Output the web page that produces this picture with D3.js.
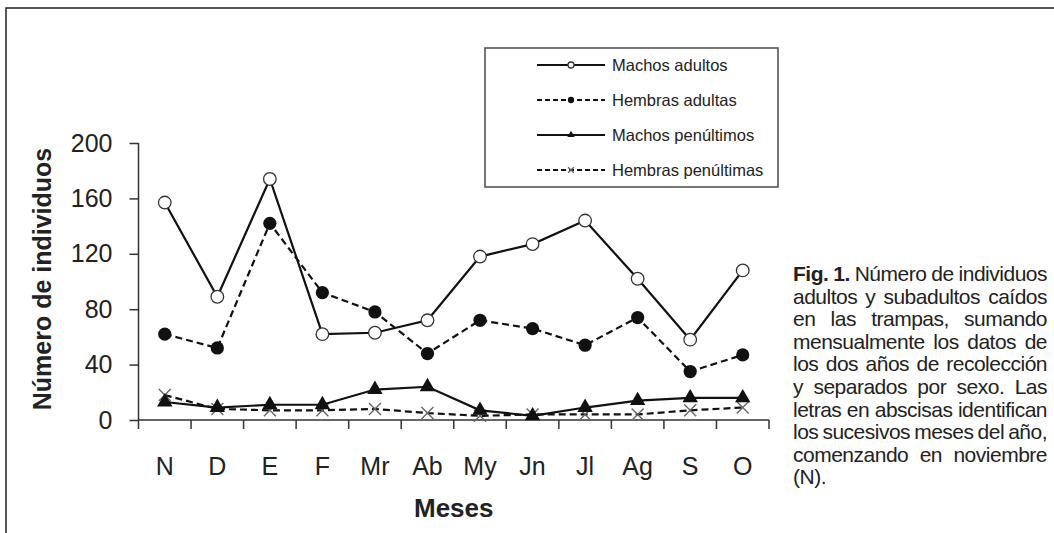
<!DOCTYPE html>
<html>
<head>
<meta charset="utf-8">
<script src="https://cdn.jsdelivr.net/npm/d3@7"></script>
<style>
  html, body { margin: 0; padding: 0; background: #fff; }
  svg { display: block; font-family: "Liberation Sans", Arial, Helvetica, sans-serif; }
</style>
</head>
<body>
<svg id="chart" width="1054" height="533"></svg>
<script>
// Months (Nov → Oct)
const months = ["N", "D", "E", "F", "Mr", "Ab", "My", "Jn", "Jl", "Ag", "S", "O"];
const yTicks = [0, 40, 80, 120, 160, 200];

// Monthly totals per group
const machosAdultos     = [157, 89, 174, 62, 63, 72, 118, 127, 144, 102, 58, 108];
const hembrasAdultas    = [62, 52, 142, 92, 78, 48, 72, 66, 54, 74, 35, 47];
const machosPenultimos  = [13, 9, 11, 11, 22, 24, 7, 3, 9, 14, 16, 16];
const hembrasPenultimas = [18, 8, 7, 7, 8, 5, 3, 4, 4, 4, 7, 9];

const seriesNames = ["Machos adultos", "Hembras adultas", "Machos penúltimos", "Hembras penúltimas"];

const captionLines = [
  ["Fig. 1.", "Número de individuos"],
  ["adultos y subadultos caídos"],
  ["en las trampas, sumando"],
  ["mensualmente los datos de"],
  ["los dos años de recolección"],
  ["y separados por sexo. Las"],
  ["letras en abscisas identifican"],
  ["los sucesivos meses del año,"],
  ["comenzando en noviembre"],
  ["(N)."]
];

const series = [
  { name: seriesNames[0], values: machosAdultos, dashed: false, marker: "openCircle" },
  { name: seriesNames[1], values: hembrasAdultas, dashed: true, marker: "filledCircle" },
  { name: seriesNames[2], values: machosPenultimos, dashed: false, marker: "triangle" },
  { name: seriesNames[3], values: hembrasPenultimas, dashed: true, marker: "cross" }
];

const svg = d3.select("#chart");

// Outer frame (top and left edges visible)
svg.append("path")
  .attr("d", "M6,533 L6,8 L1054,8")
  .attr("fill", "none")
  .attr("stroke", "#222")
  .attr("stroke-width", 1.5);

const plot = { left: 138.5, right: 769, top: 143, bottom: 420 };

const x = d3.scaleBand().domain(months).range([plot.left, plot.right]);
const y = d3.scaleLinear().domain([0, 200]).range([plot.bottom, plot.top]);
const cx = m => x(m) + x.bandwidth() / 2;

const axisColor = "#333";

// Y axis
const yAxis = svg.append("g")
  .attr("transform", `translate(${plot.left},0)`)
  .call(d3.axisLeft(y).tickValues(yTicks).tickSize(9).tickPadding(17).tickFormat(d3.format("d")));
yAxis.select(".domain").attr("stroke", axisColor).attr("stroke-width", 1.5).attr("d", `M0,${plot.top}V${plot.bottom}`);
yAxis.selectAll(".tick line").attr("stroke", axisColor).attr("stroke-width", 1.5);
yAxis.selectAll(".tick text")
  .attr("font-size", 25)
  .attr("font-family", "Liberation Sans, Arial, sans-serif")
  .attr("fill", "#222");

// X axis with ticks between categories
const xAxis = svg.append("g")
  .attr("transform", `translate(0,${plot.bottom})`);
xAxis.append("line")
  .attr("x1", plot.left).attr("x2", plot.right)
  .attr("stroke", axisColor).attr("stroke-width", 1.5);
const boundaries = months.map(m => x(m)).concat([plot.right]);
xAxis.selectAll("line.tk").data(boundaries).join("line")
  .attr("class", "tk")
  .attr("x1", d => d).attr("x2", d => d)
  .attr("y1", 0).attr("y2", 9)
  .attr("stroke", axisColor).attr("stroke-width", 1.5);
xAxis.selectAll("text").data(months).join("text")
  .attr("x", d => cx(d))
  .attr("y", 55)
  .attr("text-anchor", "middle")
  .attr("font-size", 25)
  .attr("fill", "#222")
  .text(d => d);

// Axis titles
svg.append("text")
  .attr("transform", `translate(51,279) rotate(-90)`)
  .attr("text-anchor", "middle")
  .attr("font-size", 25)
  .attr("font-weight", "bold")
  .attr("fill", "#222")
  .text("Número de individuos");

svg.append("text")
  .attr("x", (plot.left + plot.right) / 2)
  .attr("y", 517)
  .attr("text-anchor", "middle")
  .attr("font-size", 26)
  .attr("font-weight", "bold")
  .attr("fill", "#222")
  .text("Meses");

// Marker drawing
function drawMarker(g, type, size) {
  if (type === "openCircle") {
    g.append("circle").attr("r", size).attr("fill", "#fff").attr("stroke", "#333").attr("stroke-width", 1.3);
  } else if (type === "filledCircle") {
    g.append("circle").attr("r", size * 1.05).attr("fill", "#111");
  } else if (type === "triangle") {
    g.append("path").attr("d", d3.symbol(d3.symbolTriangle, size * size * 2.6)()).attr("fill", "#111");
  } else if (type === "cross") {
    const s = size * 0.95;
    g.append("path").attr("d", `M${-s},${-s}L${s},${s}M${-s},${s}L${s},${-s}`)
      .attr("stroke", "#666").attr("stroke-width", 1.4).attr("fill", "none");
  }
}

const line = d3.line().x(d => cx(d.m)).y(d => y(d.v));

// Lines (drawn bottom-up so adult series sit on top)
const order = [3, 2, 1, 0];
order.forEach(i => {
  const s = series[i];
  const pts = months.map((m, j) => ({ m, v: s.values[j] }));
  const g = svg.append("g");
  g.append("path")
    .datum(pts)
    .attr("d", line)
    .attr("fill", "none")
    .attr("stroke", "#111")
    .attr("stroke-width", 2.2)
    .attr("stroke-dasharray", s.dashed ? "7,4" : null);
  g.selectAll("g.pt").data(pts).join("g")
    .attr("class", "pt")
    .attr("transform", d => `translate(${cx(d.m)},${y(d.v)})`)
    .each(function () { drawMarker(d3.select(this), s.marker, 6.3); });
});

// Legend
const legend = svg.append("g");
legend.append("rect")
  .attr("x", 485).attr("y", 48).attr("width", 293).attr("height", 139)
  .attr("fill", "#fff").attr("stroke", "#555").attr("stroke-width", 1.6);
series.forEach((s, i) => {
  const ly = 65 + i * 35;
  const row = legend.append("g").attr("transform", `translate(0,${ly})`);
  row.append("line")
    .attr("x1", 537).attr("x2", 605)
    .attr("stroke", "#111").attr("stroke-width", 2.2)
    .attr("stroke-dasharray", s.dashed ? "5,3" : null);
  const mk = row.append("g").attr("transform", "translate(571,0)");
  drawMarker(mk, s.marker, 3);
  row.append("text")
    .attr("x", 612).attr("y", 0).attr("dy", "0.35em")
    .attr("font-size", 16.5)
    .attr("fill", "#222")
    .text(s.name);
});

// Caption, justified block
const cap = svg.append("g").attr("font-size", 21).attr("letter-spacing", "-0.5px").attr("fill", "#222");
const capLeft = 793, capRight = 1047, capTop = 281, capLead = 22.6;
captionLines.forEach((parts, li) => {
  const words = [];
  parts.forEach((p, pi) => {
    const bold = (li === 0 && pi === 0);
    p.split(" ").forEach(w => words.push({ w, bold }));
  });
  const yy = capTop + li * capLead;
  const nodes = words.map(d => cap.append("text")
    .attr("y", yy)
    .attr("font-weight", d.bold ? "bold" : null)
    .text(d.w));
  const widths = nodes.map(n => n.node().getComputedTextLength());
  const total = d3.sum(widths);
  const last = li === captionLines.length - 1;
  const gap = (last || words.length < 2) ? 5 : (capRight - capLeft - total) / (words.length - 1);
  let xx = capLeft;
  nodes.forEach((n, k) => { n.attr("x", xx); xx += widths[k] + gap; });
});
</script>
</body>
</html>
